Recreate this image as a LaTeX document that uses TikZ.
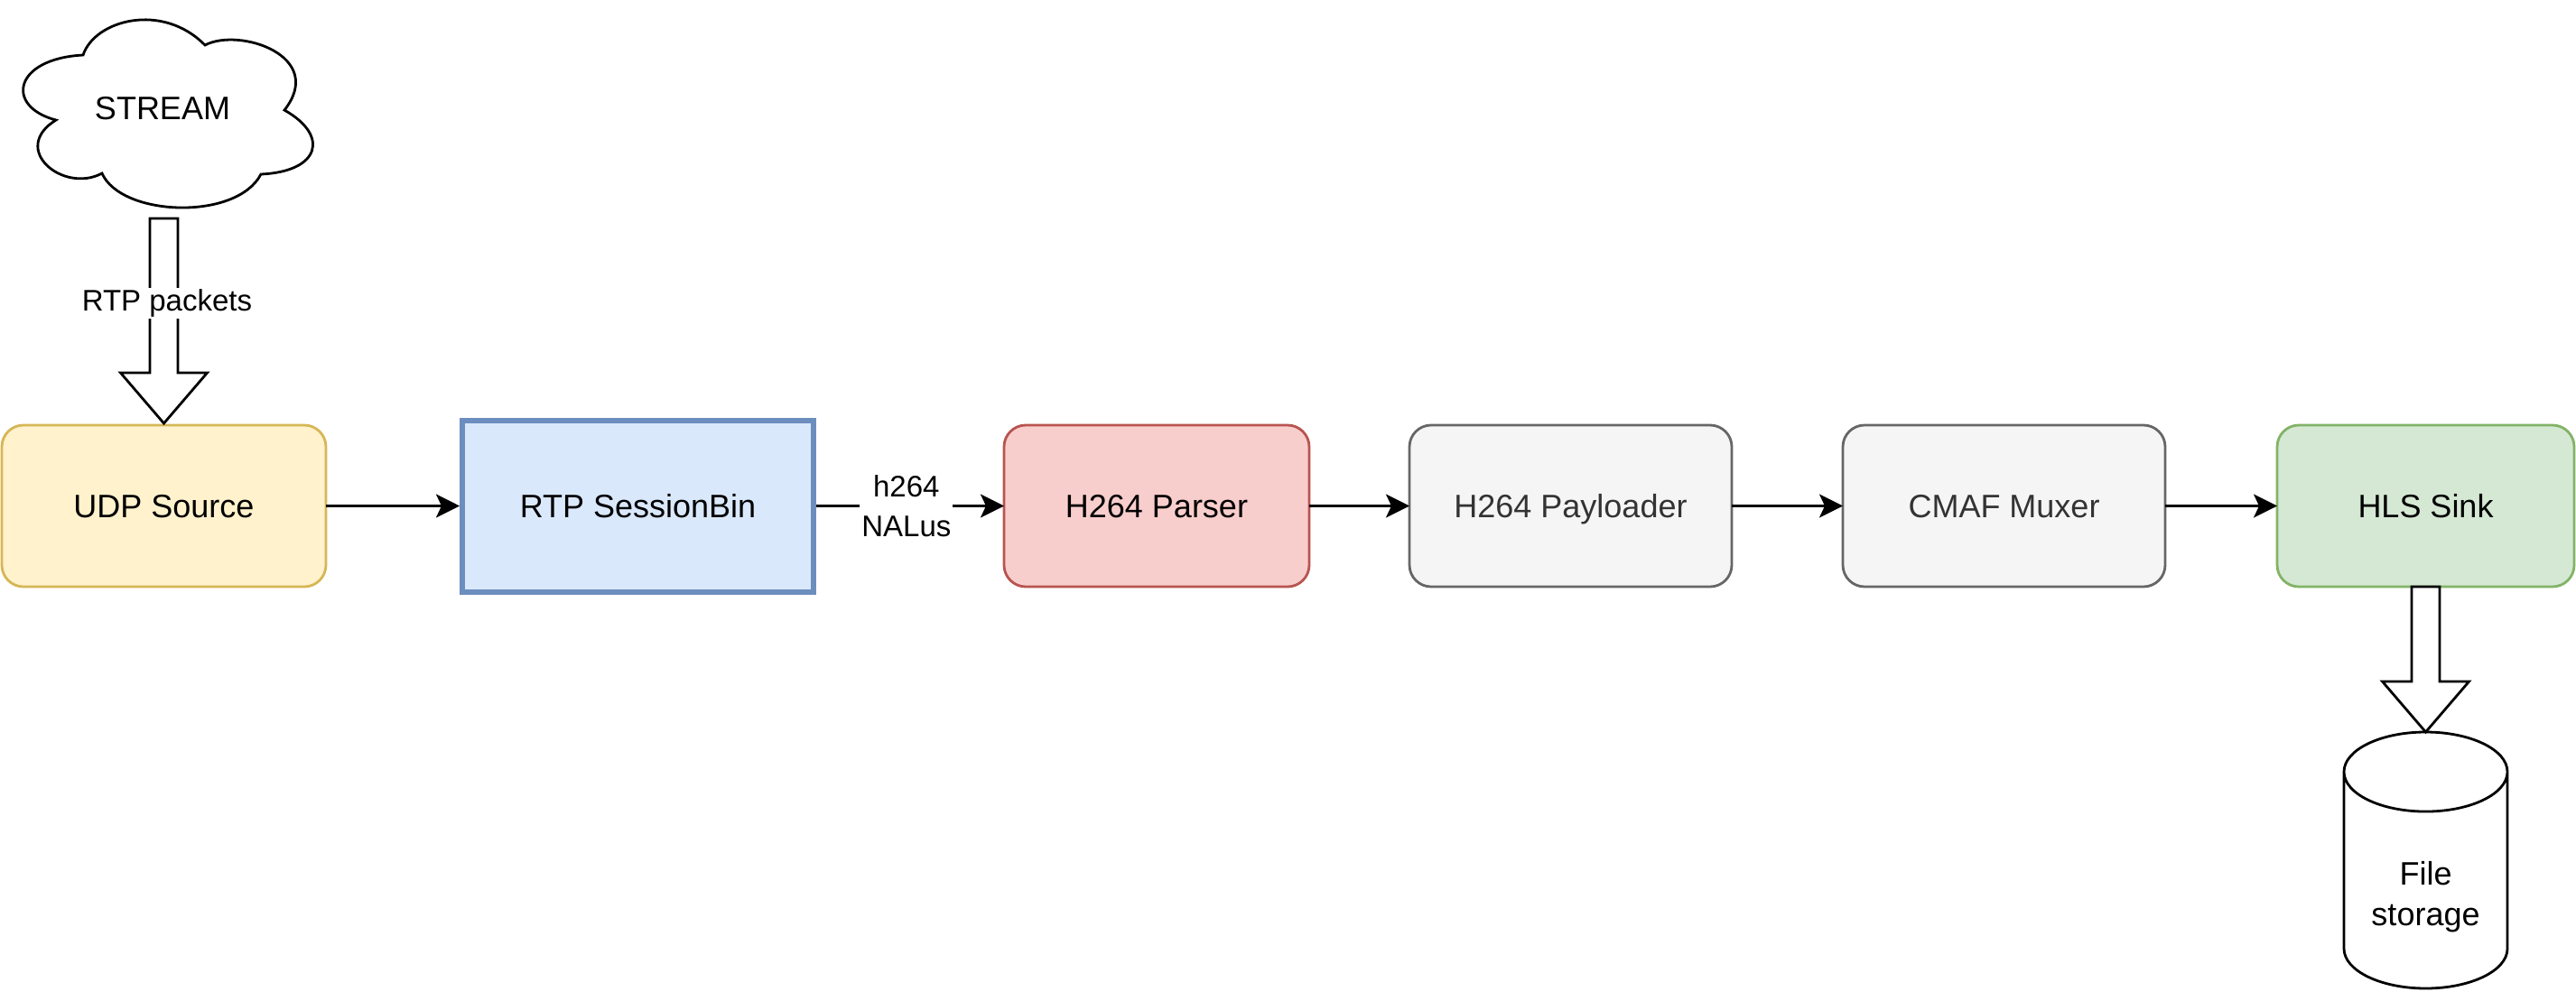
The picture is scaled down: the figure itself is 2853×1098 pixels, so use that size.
\documentclass[tikz,border=0pt]{standalone}
\usepackage{fontspec}
\setmainfont{Liberation Sans}
\usetikzlibrary{shapes.geometric,arrows.meta,positioning,calc}
\definecolor{udpfill}{HTML}{FFF2CC}
\definecolor{udpline}{HTML}{D6B656}
\definecolor{rtpfill}{HTML}{DAE8FC}
\definecolor{rtpline}{HTML}{6C8EBF}
\definecolor{parsefill}{HTML}{F8CECC}
\definecolor{parseline}{HTML}{B85450}
\definecolor{greyfill}{HTML}{F5F5F5}
\definecolor{greyline}{HTML}{666666}
\definecolor{greytext}{HTML}{333333}
\definecolor{sinkfill}{HTML}{D5E8D4}
\definecolor{sinkline}{HTML}{82B366}
\tikzstyle{block}=[draw,rounded corners=12pt,line width=1.4pt,outer sep=0pt,minimum height=89.5pt,text height=13pt,text depth=0pt,font=\fontsize{18}{22}\selectfont]
\tikzstyle{greyblock}=[block,fill=greyfill,draw=greyline,text=greytext,minimum width=178.5pt]
\tikzstyle{arrow}=[line width=1.4pt,-{Stealth[length=13pt,width=13pt,inset=3pt]}]
\tikzstyle{edgelabel}=[fill=white,align=center,inner sep=1pt,font=\fontsize{16.5}{22}\selectfont]
\tikzstyle{bigarrow}=[draw,fill=white,line width=1.4pt,miter limit=10,to path={let \p1=(\tikztostart),\p2=(\tikztotarget) in
  (\x1-7.75pt,\y1)--(\x1+7.75pt,\y1)--(\x1+7.75pt,\y2+28pt)--(\x1+24pt,\y2+28pt)--(\x2,\y2)--(\x1-24pt,\y2+28pt)--(\x1-7.75pt,\y2+28pt)--cycle}]
\begin{document}
\begin{tikzpicture}[x=.5pt,y=-.5pt]
\useasboundingbox (0,0) rectangle (2853,1098);
\draw[line width=1.4pt,fill=white] (92,61) .. controls (105,22) and (180,2) .. (227,50)
  .. controls (265,30) and (362,62) .. (315,122)
  .. controls (365,150) and (355,190) .. (289,193)
  .. controls (262,245) and (134,240) .. (113,192)
  .. controls (70,215) and (10,165) .. (62,133)
  .. controls (5,118) and (15,65) .. cycle;
\node (stream) at (180,120) [font=\fontsize{18}{22}\selectfont] {STREAM};
\node (udp) at (2,560.5) [anchor=west,block,fill=udpfill,draw=udpline,minimum width=179.5pt] {UDP Source};
\node (rtp) [right=74pt of udp,block,rectangle,sharp corners,fill=rtpfill,draw=rtpline,line width=3pt,outer sep=1.5pt,minimum width=194.5pt,minimum height=95pt] {RTP SessionBin};
\node (parse) [right=104pt of rtp,block,fill=parsefill,draw=parseline,minimum width=169pt] {H264 Parser};
\node (pay) [right=55.5pt of parse,greyblock] {H264 Payloader};
\node (cmaf) [right=61.5pt of pay,greyblock] {CMAF Muxer};
\node (hls) [right=62pt of cmaf,block,fill=sinkfill,draw=sinkline,minimum width=164.5pt] {HLS Sink};
\node (store) [below=80.5pt of hls,cylinder,shape border rotate=90,aspect=.66,draw,fill=white,line width=1.4pt,outer sep=0pt,minimum width=90.5pt,minimum height=142pt,align=center,font=\fontsize{18}{22.5}\selectfont] {\phantom{File}\\\phantom{storage}};
\node (storetext) at (hls.center |- 0,994) [align=center,font=\fontsize{18}{22.5}\selectfont] {File\\storage};
\coordinate (streamout) at (udp.north |- 0,242);
\draw[bigarrow] (streamout) to ([yshift=1pt]udp.north);
\node (pkts) at (185,336) [edgelabel] {RTP packets};
\draw[bigarrow] (hls.south) to (store.north);
\draw[arrow] (udp)--(rtp);
\draw[arrow] (rtp)--node[pos=.48,edgelabel]{h264\\NALus}(parse);
\draw[arrow] (parse)--(pay);
\draw[arrow] (pay)--(cmaf);
\draw[arrow] (cmaf)--(hls);
\end{tikzpicture}
\end{document}
